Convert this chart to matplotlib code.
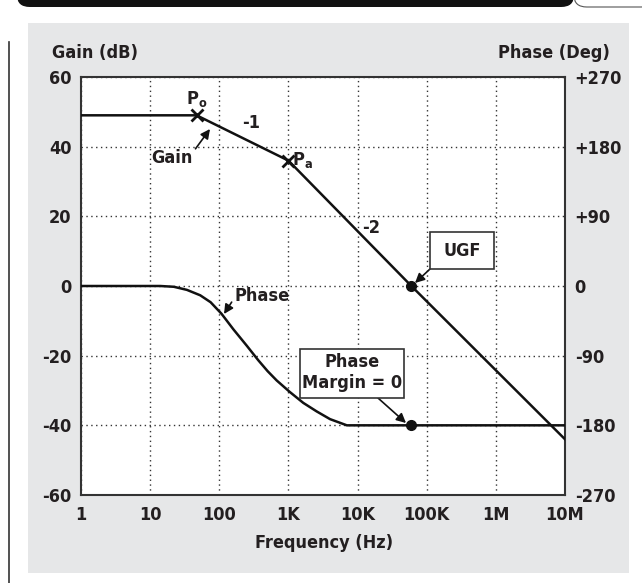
import matplotlib
matplotlib.use("Agg")
import matplotlib.pyplot as plt
from matplotlib import font_manager
from matplotlib.patches import Rectangle, FancyBboxPatch
from matplotlib.lines import Line2D

# gain curve (Hz, dB) - straight-line bode sketch
gain_f = [1, 47, 1000, 60000, 1e7]
gain_db = [49, 49, 36, 0, -44]
# pole markers
pole_f = [47, 1000]
pole_db = [49, 36]

# phase curve (Hz, deg)
phase_f = [1, 14, 22, 34, 53, 75, 108, 160, 249, 367, 500, 676, 1050, 1640, 2560, 4000, 7000, 1e7]
phase_deg = [0, 0, -1, -5, -12, -21, -36, -56, -77, -96, -110, -122, -137, -151, -162, -172, -180, -180]

ugf_f = 60000
ugf_db = 0
pm_deg = -180

xticks = [1, 10, 100, 1e3, 1e4, 1e5, 1e6, 1e7]
xlabels = ["1", "10", "100", "1K", "10K", "100K", "1M", "10M"]
gticks = [60, 40, 20, 0, -20, -40, -60]
pticks = [270, 180, 90, 0, -90, -180, -270]
plabels = ["+270", "+180", "+90", "0", "-90", "-180", "-270"]

# look for a narrow/condensed face, otherwise Liberation Sans
fam, stretch = "Liberation Sans", "normal"
for f in font_manager.fontManager.ttflist:
    if "Narrow" in f.name or "Condensed" in f.name or f.stretch in ("condensed", "semi-condensed"):
        fam, stretch = f.name, f.stretch
        break
fs = 13 if fam != "Liberation Sans" else 12

plt.rcParams["font.family"] = [fam, "DejaVu Sans"]
plt.rcParams["font.stretch"] = stretch
plt.rcParams["font.weight"] = "bold"
plt.rcParams["axes.unicode_minus"] = False
plt.rcParams["mathtext.fontset"] = "custom"
plt.rcParams["mathtext.rm"] = fam + ":bold"
plt.rcParams["mathtext.it"] = fam + ":bold"
plt.rcParams["mathtext.bf"] = fam + ":bold"

W, H = 642, 583
txt = "#231f20"
fig = plt.figure(figsize=(W / 100, H / 100), dpi=100)

def fp(x, y):
    return (x / W, 1 - y / H)

# page decoration
fig.patches.append(Rectangle(fp(28, 573), (629 - 28) / W, (573 - 23) / H,
                             transform=fig.transFigure, fc="#e6e7e8", ec="none", zorder=-5))
fig.patches.append(FancyBboxPatch(fp(17, 7), (574 - 17) / W, 20 / H, boxstyle="round,pad=0,rounding_size=0.02",
                                  transform=fig.transFigure, fc="#111111", ec="none", zorder=-5))
fig.patches.append(FancyBboxPatch(fp(574, 7), 80 / W, 20 / H, boxstyle="round,pad=0,rounding_size=0.02",
                                  transform=fig.transFigure, fc="white", ec="#555555", lw=0.8, zorder=-4))
fig.lines.append(Line2D([9 / W, 9 / W], [1 - 42 / H, 0], transform=fig.transFigure, color="#333333", lw=1.2))

x0, y0 = fp(81, 495)
x1, y1 = fp(565, 77)
ax = fig.add_axes([x0, y0, x1 - x0, y1 - y0])
ax.set_facecolor("white")
ax.set_xscale("log")
ax.set_xlim(1, 1e7)
ax.set_ylim(-60, 60)
ax.set_xticks(xticks)
ax.set_xticklabels(xlabels)
ax.minorticks_off()
ax.set_yticks(gticks)
ax.tick_params(length=0, labelsize=fs, colors=txt)
ax.tick_params(axis="y", pad=7)
ax.tick_params(axis="x", pad=8)
ax.grid(True, color="#333333", lw=1, linestyle=(0, (1, 2.5)))
for s in ax.spines.values():
    s.set_color("#333333")
    s.set_linewidth(1.5)

ax2 = ax.twinx()
ax2.set_ylim(-270, 270)
ax2.set_yticks(pticks)
ax2.set_yticklabels(plabels)
ax2.tick_params(length=0, labelsize=fs, colors=txt, pad=7)
for s in ax2.spines.values():
    s.set_visible(False)

ax.plot(gain_f, gain_db, color="#111111", lw=1.8, zorder=3)
ax.plot(pole_f, pole_db, "x", color="#111111", ms=8, mew=2, zorder=4)
ax.plot([ugf_f], [ugf_db], "o", color="#111111", ms=7, zorder=4)
ax2.plot(phase_f, phase_deg, color="#111111", lw=1.8, zorder=3)
ax2.plot([ugf_f], [pm_deg], "o", color="#111111", ms=7, zorder=4)

# titles
fig.text(*fp(52, 53), "Gain (dB)", ha="left", va="center", fontsize=fs, color=txt)
fig.text(*fp(610, 53), "Phase (Deg)", ha="right", va="center", fontsize=fs, color=txt)
fig.text(*fp(324, 543), "Frequency (Hz)", ha="center", va="center", fontsize=fs, color=txt)

# curve labels
fig.text(*fp(197, 99), r"P$_{\rm o}$", ha="center", va="center", fontsize=fs, color=txt)
fig.text(*fp(292, 160), r"P$_{\rm a}$", ha="left", va="center", fontsize=fs, color=txt)
fig.text(*fp(251, 123), "-1", ha="center", va="center", fontsize=fs, color=txt)
fig.text(*fp(371, 228), "-2", ha="center", va="center", fontsize=fs, color=txt)

arrow = dict(arrowstyle="-|>", color="#111111", lw=1.2, mutation_scale=14, shrinkA=0, shrinkB=0)
ax.annotate("Gain", xy=fp(210, 129), xycoords="figure fraction", xytext=fp(172, 158),
            textcoords="figure fraction", ha="center", va="center", fontsize=fs, color=txt,
            arrowprops=dict(arrow, relpos=(1.0, 0.8)))
ax.annotate("Phase", xy=fp(224, 314), xycoords="figure fraction", xytext=fp(262, 296),
            textcoords="figure fraction", ha="center", va="center", fontsize=fs, color=txt,
            arrowprops=dict(arrow, relpos=(0.0, 0.4)))

# boxes
fig.patches.append(Rectangle(fp(430, 269), 64 / W, 37 / H, transform=fig.transFigure,
                             fc="white", ec="#333333", lw=1.2, zorder=5))
fig.text(*fp(462, 251), "UGF", ha="center", va="center", fontsize=fs, color=txt, zorder=6)
fig.patches.append(Rectangle(fp(300, 398), 104 / W, 49 / H, transform=fig.transFigure,
                             fc="white", ec="#333333", lw=1.2, zorder=5))
fig.text(*fp(352, 362), "Phase", ha="center", va="center", fontsize=fs, color=txt, zorder=6)
fig.text(*fp(352, 383), "Margin = 0", ha="center", va="center", fontsize=fs, color=txt, zorder=6)

ax.annotate("", xy=fp(415, 283), xycoords="figure fraction", xytext=fp(430, 269),
            textcoords="figure fraction", arrowprops=arrow)
ax.annotate("", xy=fp(406, 423), xycoords="figure fraction", xytext=fp(378, 398),
            textcoords="figure fraction", arrowprops=arrow)

fig.savefig("out.png", dpi=100)
